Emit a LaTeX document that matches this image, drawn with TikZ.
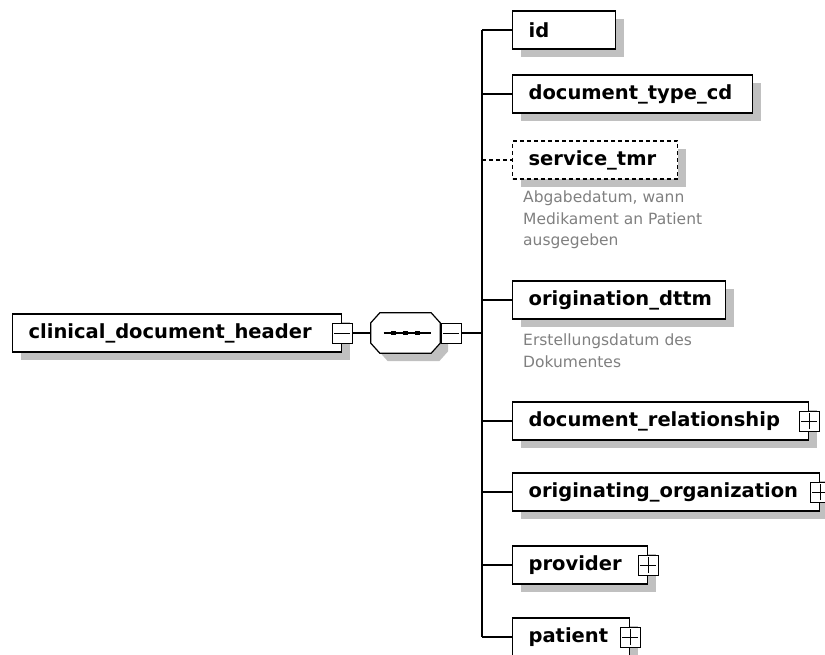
\documentclass[tikz,border=0pt]{standalone}
\usepackage{fontspec}
\setsansfont{DejaVu Sans}
\usetikzlibrary{shadows}
\definecolor{shade}{RGB}{192,192,192}
\definecolor{notegray}{RGB}{128,128,128}
\begin{document}
\begin{tikzpicture}[x=1pt,y=-1pt,
  elem/.style={draw=black, line width=1.2pt, fill=white, anchor=west,
    minimum height=38pt, inner xsep=16pt, inner ysep=0pt, align=left,
    font=\sffamily\bfseries\fontsize{19.5}{23}\selectfont,
    general shadow={fill=shade, shadow xshift=8pt, shadow yshift=-8pt}},
  optelem/.style={elem, dash pattern=on 4pt off 3pt},
  pmbox/.style={draw=black, line width=1pt, fill=white, minimum size=20pt, inner sep=0pt},
  minusbox/.style={pmbox, path picture={
    \draw[line width=1pt] ([xshift=-8pt]path picture bounding box.center) -- ([xshift=8pt]path picture bounding box.center);}},
  plusbox/.style={pmbox, path picture={
    \draw[line width=1pt] ([xshift=-8pt]path picture bounding box.center) -- ([xshift=8pt]path picture bounding box.center);
    \draw[line width=1pt] ([yshift=-8pt]path picture bounding box.center) -- ([yshift=8pt]path picture bounding box.center);}},
  seqframe/.style={rectangle, minimum width=69pt, minimum height=40pt, inner sep=0pt},
  octagon/.style={draw=black, line width=1.2pt, fill=white,
    general shadow={fill=shade, shadow xshift=8pt, shadow yshift=-8pt}},
  conn/.style={draw=black, line width=1.2pt},
  optconn/.style={conn, dash pattern=on 4pt off 3pt},
  note/.style={anchor=north west, inner sep=0pt, align=left, text=notegray,
    font=\sffamily\fontsize{15.5}{21.5}\selectfont}
]
\useasboundingbox (0,0) rectangle (825,655);
\fill[white] (0,0) rectangle (825,655);

% root element
\node[elem, text width=297pt] (hdr) at (12,333) {clinical\_document\_header};
\node[minusbox] (hm) at (hdr.east) {};

% sequence compositor
\node[seqframe] (seq) at (405.5,333) {};
\path[octagon] ([xshift=9pt]seq.north west) -- ([xshift=-9pt]seq.north east)
  -- ([yshift=-10pt]seq.north east) -- ([yshift=10pt]seq.south east)
  -- ([xshift=-9pt]seq.south east) -- ([xshift=9pt]seq.south west)
  -- ([yshift=10pt]seq.south west) -- ([yshift=-10pt]seq.north west) -- cycle;
\draw[line width=1.2pt] ([xshift=-22pt]seq.center) -- ([xshift=25pt]seq.center);
\foreach \dx in {-12,0,12}
  \fill ([xshift=\dx pt]seq.center) +(-2.5,-2.2) rectangle +(2.5,2.2);
\node[minusbox] (sm) at (451,333) {};
\coordinate (tr) at (482,333);

% child elements
\node[elem, text width=71pt]  (id)   at (512,30)  {id};
\node[elem, text width=208pt] (dtc)  at (512,94)  {document\_type\_cd};
\node[optelem, text width=133pt] (svc) at (512,160) {service\_tmr};
\node[elem, text width=181pt] (orig) at (512,300) {origination\_dttm};
\node[elem, text width=264pt] (drel) at (512,421) {document\_relationship};
\node[elem, text width=275pt] (oorg) at (512,492) {originating\_organization};
\node[elem, text width=103pt] (prov) at (512,565) {provider};
\node[elem, text width=85pt]  (pat)  at (512,637) {patient};

\node[plusbox] (drelp) at (drel.east) {};
\node[plusbox] (oorgp) at (oorg.east) {};
\node[plusbox] (provp) at (prov.east) {};
\node[plusbox] (patp)  at (pat.east) {};

% annotations
\node[note] (n1) at (523,191) {Abgabedatum, wann\\Medikament an Patient\\ausgegeben};
\node[note] (n2) at (523,334) {Erstellungsdatum des\\Dokumentes};

% connectors
\draw[conn] (hm) -- (seq);
\draw[conn] (sm) -- (tr);
\draw[conn] (id.west -| tr) -- (pat.west -| tr);
\draw[conn] (id.west -| tr) -- (id.west);
\draw[conn] (dtc.west -| tr) -- (dtc.west);
\draw[optconn] (svc.west -| tr) -- (svc.west);
\draw[conn] (orig.west -| tr) -- (orig.west);
\draw[conn] (drel.west -| tr) -- (drel.west);
\draw[conn] (oorg.west -| tr) -- (oorg.west);
\draw[conn] (prov.west -| tr) -- (prov.west);
\draw[conn] (pat.west -| tr) -- (pat.west);
\end{tikzpicture}
\end{document}
